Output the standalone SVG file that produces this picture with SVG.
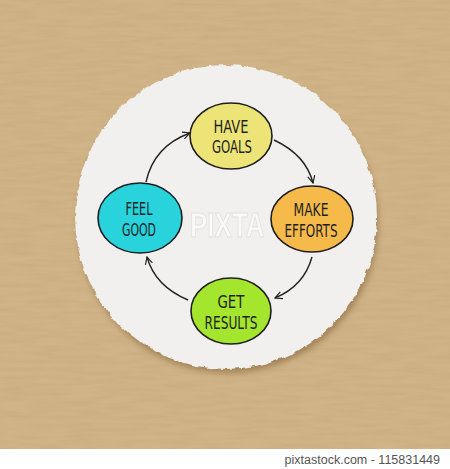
<svg xmlns="http://www.w3.org/2000/svg" width="450" height="469" viewBox="0 0 450 469">
<defs>
<filter id="rough" filterUnits="userSpaceOnUse" x="40" y="30" width="380" height="380">
<feTurbulence type="fractalNoise" baseFrequency="0.12" numOctaves="2" seed="3" result="n"/>
<feDisplacementMap in="SourceGraphic" in2="n" scale="5" xChannelSelector="R" yChannelSelector="G"/>
</filter>
<filter id="grain" filterUnits="userSpaceOnUse" x="0" y="0" width="450" height="449">
<feTurbulence type="fractalNoise" baseFrequency="0.03 0.25" numOctaves="3" seed="7" result="t"/>
<feColorMatrix in="t" type="matrix" values="0 0 0 0 0.45  0 0 0 0 0.33  0 0 0 0 0.15  0 0 0 0.35 -0.12"/>
</filter>
<filter id="shadow" filterUnits="userSpaceOnUse" x="40" y="40" width="380" height="380">
<feGaussianBlur stdDeviation="3"/>
</filter>
<marker id="ah" viewBox="0 0 10 10" refX="9" refY="5" markerWidth="9" markerHeight="9" orient="auto" markerUnits="userSpaceOnUse">
<path d="M1,1 L9,5 L1,9" fill="none" stroke="#222" stroke-width="1.3"/>
</marker>
<style>
.node ellipse{stroke:#1e1e1e;stroke-width:1.6}
.lbl{font-family:"Liberation Sans Narrow","DejaVu Sans Condensed","Liberation Sans",sans-serif;font-size:17px;fill:#1f1f1f;text-anchor:middle}
.conn path{fill:none;stroke:#222;stroke-width:1.4;marker-end:url(#ah)}
</style>
</defs>
<rect width="450" height="449" fill="#d0b386"/>
<rect width="450" height="449" fill="#000" filter="url(#grain)"/>
<rect y="449" width="450" height="20" fill="#ffffff"/>
<text x="440" y="464" font-family="'Liberation Sans',sans-serif" font-size="12.5" fill="#555" text-anchor="end">pixtastock.com - 115831449</text>
<g id="paper">
<ellipse cx="228" cy="223" rx="150" ry="150" fill="#7a5a32" opacity="0.55" filter="url(#shadow)"/>
<ellipse cx="226" cy="217" rx="151" ry="152" fill="#f1f0ee" filter="url(#rough)"/>
</g>
<g id="watermark" opacity="0.6">
<text transform="translate(190,237) scale(1,1.35)" font-family="'Liberation Sans',sans-serif" font-weight="bold" font-size="26" fill="#ffffff" stroke="#d4d4d4" stroke-width="0.7">PIXTA</text>
</g>
<g class="conn" id="connectors">
<path d="M146,182 Q154,146 190,133"/>
<path d="M274,140 Q306,155 313,183"/>
<path d="M312,257 Q304,286 275,298"/>
<path d="M188,300 Q155,286 147,257"/>
</g>
<g class="node" id="have-goals">
<ellipse cx="231" cy="136" rx="41" ry="33" fill="#ede478"/>
<text class="lbl" x="231" y="133" textLength="35" lengthAdjust="spacingAndGlyphs">HAVE</text>
<text class="lbl" x="232" y="153" textLength="40" lengthAdjust="spacingAndGlyphs">GOALS</text>
</g>
<g class="node" id="make-efforts">
<ellipse cx="312" cy="219" rx="41" ry="33" fill="#f6ba4b"/>
<text class="lbl" x="311" y="216" textLength="35" lengthAdjust="spacingAndGlyphs">MAKE</text>
<text class="lbl" x="311" y="237" textLength="53" lengthAdjust="spacingAndGlyphs">EFFORTS</text>
</g>
<g class="node" id="get-results">
<ellipse cx="231" cy="311" rx="40" ry="33" fill="#a4e52e"/>
<text class="lbl" x="231" y="308" textLength="27" lengthAdjust="spacingAndGlyphs">GET</text>
<text class="lbl" x="231" y="329" textLength="53" lengthAdjust="spacingAndGlyphs">RESULTS</text>
</g>
<g class="node" id="feel-good">
<ellipse cx="140" cy="218" rx="42" ry="35" fill="#28d3dc"/>
<text class="lbl" x="139" y="215" textLength="27" lengthAdjust="spacingAndGlyphs">FEEL</text>
<text class="lbl" x="139" y="236" textLength="34" lengthAdjust="spacingAndGlyphs">GOOD</text>
</g>
</svg>
